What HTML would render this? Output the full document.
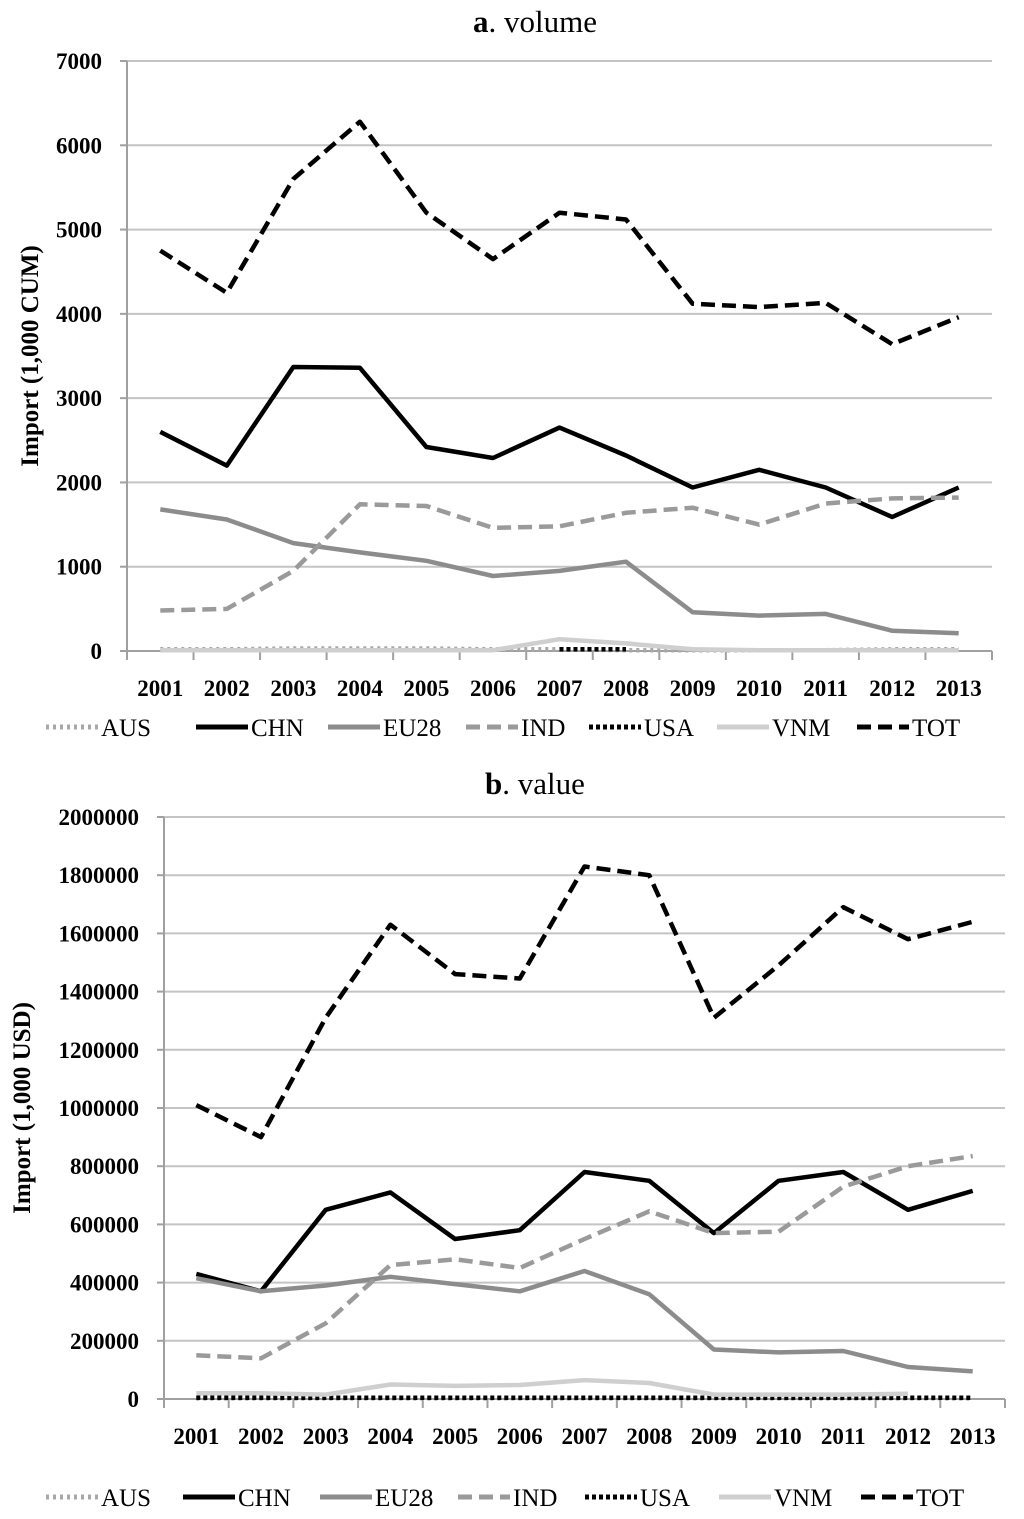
<!DOCTYPE html>
<html><head><meta charset="utf-8"><style>
html,body{margin:0;padding:0;background:#fff;}
svg{display:block;font-family:"Liberation Serif",serif;}
</style></head><body>
<svg id="chart" width="1024" height="1519" viewBox="0 0 1024 1519" xmlns="http://www.w3.org/2000/svg"></svg>
<script>
const years = ["2001","2002","2003","2004","2005","2006","2007","2008","2009","2010","2011","2012","2013"];
const seriesNames = ["AUS","CHN","EU28","IND","USA","VNM","TOT"];
// panel a: volume (1,000 CUM)
const volAUS = [20,20,30,30,30,20,20,10,10,10,10,20,20];
const volCHN = [2600,2200,3370,3360,2420,2290,2650,2320,1940,2150,1940,1590,1940];
const volEU28 = [1680,1560,1280,1170,1070,890,950,1060,460,420,440,240,210];
const volIND = [480,500,950,1740,1720,1460,1480,1640,1700,1500,1750,1810,1820];
const volUSA = [null,null,null,null,null,null,20,20,null,null,null,null,null];
const volVNM = [10,10,10,10,10,10,140,90,20,10,10,10,10];
const volTOT = [4750,4250,5600,6280,5200,4650,5200,5120,4120,4080,4130,3640,3960];
const volTicks = [0,1000,2000,3000,4000,5000,6000,7000];
// panel b: value (1,000 USD)
const valAUS = [2000,2000,2000,2000,2000,2000,2000,2000,2000,2000,2000,2000,2000];
const valCHN = [430000,370000,650000,710000,550000,580000,780000,750000,570000,750000,780000,650000,715000];
const valEU28 = [415000,370000,390000,420000,395000,370000,440000,360000,170000,160000,165000,110000,95000];
const valIND = [150000,140000,260000,460000,480000,450000,550000,645000,570000,575000,730000,800000,835000];
const valUSA = [4000,4000,4000,4000,4000,4000,4000,4000,4000,4000,4000,4000,4000];
const valVNM = [20000,20000,15000,50000,45000,48000,65000,55000,15000,15000,15000,18000,null];
const valTOT = [1010000,900000,1310000,1630000,1460000,1445000,1830000,1800000,1310000,1490000,1690000,1580000,1640000];
const valTicks = [0,200000,400000,600000,800000,1000000,1200000,1400000,1600000,1800000,2000000];

const NS="http://www.w3.org/2000/svg";
const svg=document.getElementById('chart');
function el(tag,attrs,parent){const e=document.createElementNS(NS,tag);for(const k in attrs)e.setAttribute(k,attrs[k]);(parent||svg).appendChild(e);return e;}
const styles={
 AUS:{stroke:"#a8a8a8",dash:"3,4"},
 CHN:{stroke:"#000",dash:""},
 EU28:{stroke:"#8c8c8c",dash:""},
 IND:{stroke:"#9a9a9a",dash:"14,7"},
 USA:{stroke:"#000",dash:"4,3"},
 VNM:{stroke:"#cfcfcf",dash:""},
 TOT:{stroke:"#000",dash:"14,7"}
};
function panel(cfg){
 const g=el('g',{});
 
 
 const step=(cfg.right-cfg.left)/years.length;
 const xS=i=>cfg.left+step*(i+0.5);
 const yS=v=>cfg.y0-(v/cfg.max)*(cfg.y0-cfg.yTop);
 const t=el('text',{x:535,y:cfg.titleY,'text-anchor':'middle','font-size':31},g);
 
 
 t.innerHTML='<tspan font-weight="bold">'+cfg.letter+'</tspan>. '+cfg.title;
 cfg.ticks.forEach(v=>{
  const y=yS(v);
  if(v>0){const gl=el('line',{x1:cfg.left,x2:cfg.right,y1:y,y2:y,stroke:"#c4c4c4",'stroke-width':2},g);
   }
  el('line',{x1:cfg.left-7,x2:cfg.left,y1:y,y2:y,stroke:"#a0a0a0",'stroke-width':2},g);
  const tl=el('text',{x:cfg.labelRight,y:y+8,'text-anchor':'end','font-size':23,'font-weight':'bold'},g);
  
  tl.textContent=v;
 });
 el('line',{x1:cfg.left,x2:cfg.left,y1:cfg.yTop,y2:cfg.y0,stroke:"#a0a0a0",'stroke-width':2},g);
 const ax=el('line',{x1:cfg.left,x2:cfg.right,y1:cfg.y0,y2:cfg.y0,stroke:"#a0a0a0",'stroke-width':2},g);
 
 for(let i=0;i<=years.length;i++){const x=cfg.left+step*i;el('line',{x1:x,x2:x,y1:cfg.y0,y2:cfg.y0+9,stroke:"#a0a0a0",'stroke-width':2},g);}
 years.forEach((yr,i)=>{
  const tx=el('text',{x:xS(i),y:cfg.y0+45,'text-anchor':'middle','font-size':23,'font-weight':'bold'},g);
  
  tx.textContent=yr;
 });
 const yt=el('text',{transform:`translate(${cfg.ytX},${(cfg.y0+cfg.yTop)/2}) rotate(-90)`,'text-anchor':'middle','font-size':25,'font-weight':'bold'},g);
 
 yt.textContent=cfg.ytitle;
 seriesNames.forEach(n=>{
  const data=cfg.data[n];let d="";let pen=false;
  data.forEach((v,i)=>{if(v==null){pen=false;return;}d+=(pen?"L":"M")+xS(i).toFixed(1)+","+yS(v).toFixed(1);pen=true;});
  const p=el('path',{d:d,fill:"none",stroke:styles[n].stroke,'stroke-width':4.5,'stroke-dasharray':styles[n].dash,'stroke-linejoin':'round'},g);
  
 });
 cfg.legend.forEach((lx,k)=>{
  const n=seriesNames[k];
  const lg=el('g',{},g);
  
  
  el('line',{x1:lx,x2:lx+52,y1:cfg.legY,y2:cfg.legY,stroke:styles[n].stroke,'stroke-width':5,'stroke-dasharray':styles[n].dash},lg);
  const lt=el('text',{x:lx+55,y:cfg.legY+9,'font-size':25},lg);
  lt.textContent=n;
 });
}
panel({name:'volume-panel',letter:'a',title:'volume',titleY:32,left:127,right:992,yTop:61,y0:651,max:7000,ticks:volTicks,labelRight:102,ytX:38,ytitle:'Import (1,000 CUM)',legY:727,legend:[46,196,328,466,589,717,857],
 data:{AUS:volAUS,CHN:volCHN,EU28:volEU28,IND:volIND,USA:volUSA,VNM:volVNM,TOT:volTOT}});
panel({name:'value-panel',letter:'b',title:'value',titleY:794,left:164,right:1005,yTop:817,y0:1399,max:2000000,ticks:valTicks,labelRight:139,ytX:30,ytitle:'Import (1,000 USD)',legY:1497,legend:[46,183,320,458,585,719,861],
 data:{AUS:valAUS,CHN:valCHN,EU28:valEU28,IND:valIND,USA:valUSA,VNM:valVNM,TOT:valTOT}});
</script>
</body></html>
